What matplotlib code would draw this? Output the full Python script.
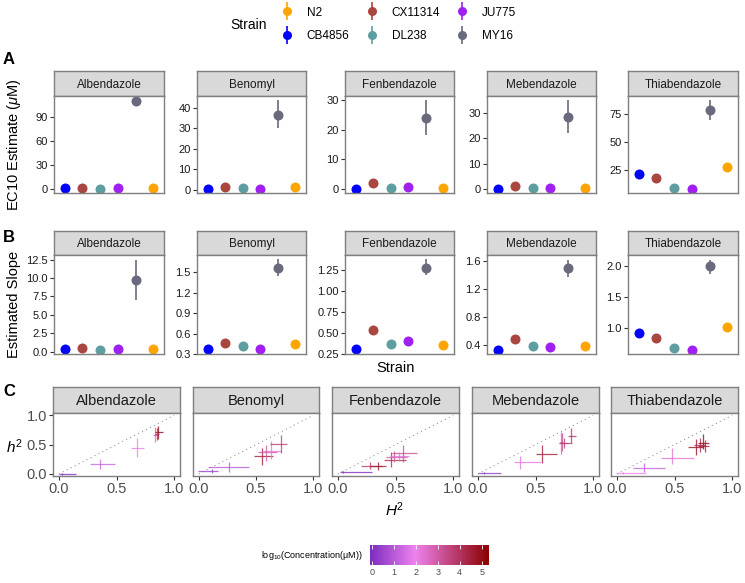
import numpy as np
import matplotlib
matplotlib.use("Agg")
import matplotlib.pyplot as plt
from matplotlib.lines import Line2D
from matplotlib.legend_handler import HandlerTuple
from matplotlib.colors import LinearSegmentedColormap, Normalize
from matplotlib.cm import ScalarMappable

plt.rcParams['font.family'] = ['Liberation Sans', 'DejaVu Sans']
plt.rcParams['mathtext.fontset'] = 'custom'
plt.rcParams['mathtext.rm'] = 'Liberation Sans'
plt.rcParams['mathtext.it'] = 'Liberation Sans:italic'

drugs = ['Albendazole', 'Benomyl', 'Fenbendazole', 'Mebendazole', 'Thiabendazole']
strains = ['CB4856', 'CX11314', 'DL238', 'JU775', 'MY16', 'N2']
strain_colors = {'N2': '#FFA500', 'CB4856': '#0000FF', 'CX11314': '#A8463F',
                 'DL238': '#5F9EA0', 'JU775': '#A020F0', 'MY16': '#696A7E'}
legend_order = ['N2', 'CB4856', 'CX11314', 'DL238', 'JU775', 'MY16']

# panel A: EC10 estimates (uM), strains in order above
ec10 = {
    'Albendazole':   [0.5, 1.5, 0.3, 0.5, 109.9, 0.5],
    'Benomyl':       [0.5, 1.3, 0.8, 0.5, 36.7, 1.1],
    'Fenbendazole':  [0.1, 2.1, 0.4, 0.8, 24.1, 0.2],
    'Mebendazole':   [0.3, 1.5, 0.5, 0.5, 28.3, 0.5],
    'Thiabendazole': [21.7, 17.9, 9.2, 8.6, 77.7, 27.4],
}
ec10_lo = {'Albendazole': 108.8, 'Benomyl': 30.2, 'Fenbendazole': 18.3,
           'Mebendazole': 21.9, 'Thiabendazole': 69.3}
ec10_hi = {'Albendazole': 111.0, 'Benomyl': 43.7, 'Fenbendazole': 30.0,
           'Mebendazole': 34.8, 'Thiabendazole': 86.6}
ec10_ticks = {'Albendazole': [0, 30, 60, 90], 'Benomyl': [0, 10, 20, 30, 40],
              'Fenbendazole': [0, 10, 20, 30], 'Mebendazole': [0, 10, 20, 30],
              'Thiabendazole': [25, 50, 75]}

# panel B: slopes
slope = {
    'Albendazole':   [0.41, 0.50, 0.32, 0.41, 9.78, 0.41],
    'Benomyl':       [0.37, 0.469, 0.42, 0.38, 1.564, 0.454],
    'Fenbendazole':  [0.314, 0.538, 0.374, 0.406, 1.274, 0.358],
    'Mebendazole':   [0.342, 0.497, 0.39, 0.38, 1.495, 0.395],
    'Thiabendazole': [0.92, 0.85, 0.68, 0.66, 1.99, 1.02],
}
slope_lo = {'Albendazole': 7.0, 'Benomyl': 1.446, 'Fenbendazole': 1.186,
            'Mebendazole': 1.37, 'Thiabendazole': 1.87}
slope_hi = {'Albendazole': 12.5, 'Benomyl': 1.69, 'Fenbendazole': 1.37,
            'Mebendazole': 1.62, 'Thiabendazole': 2.10}
slope_ticks = {'Albendazole': ['0.0', '2.5', '5.0', '7.5', '10.0', '12.5'],
               'Benomyl': ['0.3', '0.6', '0.9', '1.2', '1.5'],
               'Fenbendazole': ['0.25', '0.50', '0.75', '1.00', '1.25'],
               'Mebendazole': ['0.4', '0.8', '1.2', '1.6'],
               'Thiabendazole': ['1.0', '1.5', '2.0']}

# panel C: broad (H2) and narrow (h2) sense heritability per concentration
H2 = {'Albendazole':   [0.03, 0.353, 0.675, 0.836, 0.862, 0.85],
      'Benomyl':       [0.118, 0.261, 0.549, 0.589, 0.63, 0.72],
      'Fenbendazole':  [0.046, 0.276, 0.35, 0.463, 0.49, 0.569, 0.53],
      'Mebendazole':   [0.05, 0.368, 0.557, 0.72, 0.73, 0.75, 0.807],
      'Thiabendazole': [0.055, 0.233, 0.477, 0.685, 0.72, 0.745, 0.76]}
H2_lo = {'Albendazole':   [0.0, 0.267, 0.627, 0.82, 0.837, 0.83],
         'Benomyl':       [-0.01, 0.078, 0.48, 0.52, 0.56, 0.62],
         'Fenbendazole':  [0.017, 0.2, 0.28, 0.40, 0.42, 0.47, 0.45],
         'Mebendazole':   [0.0, 0.31, 0.50, 0.70, 0.71, 0.70, 0.78],
         'Thiabendazole': [0.0, 0.142, 0.385, 0.62, 0.67, 0.70, 0.70]}
H2_hi = {'Albendazole':   [0.147, 0.483, 0.735, 0.86, 0.9, 0.87],
         'Benomyl':       [0.166, 0.44, 0.65, 0.68, 0.72, 0.77],
         'Fenbendazole':  [0.30, 0.38, 0.42, 0.59, 0.60, 0.69, 0.62],
         'Mebendazole':   [0.20, 0.55, 0.69, 0.78, 0.74, 0.82, 0.85],
         'Thiabendazole': [0.25, 0.414, 0.67, 0.75, 0.76, 0.80, 0.80]}
h2 = {'Albendazole':   [0.0, 0.17, 0.446, 0.672, 0.717, 0.69],
      'Benomyl':       [0.05, 0.124, 0.305, 0.378, 0.40, 0.508],
      'Fenbendazole':  [0.03, 0.136, 0.136, 0.237, 0.29, 0.35, 0.30],
      'Mebendazole':   [0.02, 0.198, 0.333, 0.52, 0.55, 0.52, 0.644],
      'Thiabendazole': [0.02, 0.11, 0.265, 0.46, 0.50, 0.53, 0.48]}
h2_lo = {'Albendazole':   [-0.01, 0.08, 0.293, 0.55, 0.60, 0.58],
         'Benomyl':       [0.02, 0.04, 0.15, 0.22, 0.25, 0.36],
         'Fenbendazole':  [0.01, 0.08, 0.07, 0.12, 0.20, 0.21, 0.22],
         'Mebendazole':   [0.005, 0.09, 0.18, 0.34, 0.40, 0.44, 0.52],
         'Thiabendazole': [0.0, 0.04, 0.17, 0.33, 0.38, 0.42, 0.38]}
h2_hi = {'Albendazole':   [0.01, 0.25, 0.605, 0.80, 0.82, 0.78],
         'Benomyl':       [0.08, 0.21, 0.45, 0.50, 0.56, 0.67],
         'Fenbendazole':  [0.05, 0.20, 0.20, 0.37, 0.40, 0.49, 0.38],
         'Mebendazole':   [0.035, 0.31, 0.49, 0.72, 0.70, 0.62, 0.78],
         'Thiabendazole': [0.04, 0.19, 0.44, 0.60, 0.62, 0.68, 0.58]}
log_conc = {'Albendazole':   [0.0, 1.3, 2.0, 2.7, 5.0, 4.0],
            'Benomyl':       [0.5, 1.0, 4.5, 3.0, 2.3, 3.7],
            'Fenbendazole':  [0.0, 3.8, 4.6, 4.2, 3.0, 3.3, 2.3],
            'Mebendazole':   [0.3, 1.8, 4.5, 2.8, 3.2, 3.6, 3.9],
            'Thiabendazole': [2.0, 1.2, 2.3, 4.8, 4.2, 5.0, 4.5]}

W, H = 745, 583
fig = plt.figure(figsize=(W / 100, H / 100), dpi=100)


def px_axes(x0, y0, x1, y1, **kw):
    return fig.add_axes([x0 / W, 1 - y1 / H, (x1 - x0) / W, (y1 - y0) / H], **kw)


border = '#7F7F7F'


def strip(x0, y0, x1, y1, text, size):
    s = px_axes(x0, y0, x1, y1, facecolor='#D9D9D9')
    s.set_xticks([])
    s.set_yticks([])
    for sp in s.spines.values():
        sp.set_color(border)
        sp.set_linewidth(1.0)
    s.text(0.5, 0.45, text, ha='center', va='center', fontsize=size, color='#1A1A1A',
           transform=s.transAxes)


def style_panel(ax, tick_size, tick_color):
    for sp in ax.spines.values():
        sp.set_color(border)
        sp.set_linewidth(1.0)
    ax.tick_params(axis='both', length=3, width=0.8, color='#333333',
                   labelsize=tick_size, labelcolor=tick_color, pad=1.5)


ab_x = [(54, 164), (197, 306), (345, 454), (487, 596), (628, 738)]
c_x = [(53, 180), (193, 319), (332, 459), (472, 599), (611, 738)]
xpos = np.arange(1, len(strains) + 1)


def strain_panel(ax, vals, lo, hi):
    for i, st in enumerate(strains):
        c = strain_colors[st]
        if st == 'MY16':
            ax.vlines(xpos[i], lo, hi, color=c, lw=1.2)
        ax.plot(xpos[i], vals[i], 'o', color=c, ms=7.2, mec='none')
    ax.set_xlim(0.4, 6.6)
    ax.set_xticks([])
    ax.margins(y=0.05)


# panel A
for d, (x0, x1) in zip(drugs, ab_x):
    strip(x0, 71, x1, 96, d, 8.5)
    ax = px_axes(x0, 96, x1, 193)
    strain_panel(ax, ec10[d], ec10_lo[d], ec10_hi[d])
    ax.set_yticks(ec10_ticks[d])
    style_panel(ax, 8, '#1A1A1A')

# panel B
for d, (x0, x1) in zip(drugs, ab_x):
    strip(x0, 231, x1, 255, d, 8.5)
    ax = px_axes(x0, 255, x1, 354)
    strain_panel(ax, slope[d], slope_lo[d], slope_hi[d])
    ax.set_yticks([float(t) for t in slope_ticks[d]])
    ax.set_yticklabels(slope_ticks[d])
    style_panel(ax, 8, '#1A1A1A')

# panel C
cmap = LinearSegmentedColormap.from_list(
    'conc', [(0.0, '#7B2CBF'), (0.38, '#EE82EE'), (1.0, '#8B0000')])
norm = Normalize(vmin=-0.08, vmax=5.33)
for k, (d, (x0, x1)) in enumerate(zip(drugs, c_x)):
    strip(x0, 387, x1, 413, d, 10.5)
    ax = px_axes(x0, 413, x1, 476)
    ax.plot([0, 1], [0, 1], ls=(0, (1, 3)), color='#999999', lw=0.8)
    for j in range(len(H2[d])):
        col = cmap(norm(log_conc[d][j]))
        ax.hlines(h2[d][j], H2_lo[d][j], H2_hi[d][j], color=col, lw=0.9, alpha=0.8)
        ax.vlines(H2[d][j], h2_lo[d][j], h2_hi[d][j], color=col, lw=0.9, alpha=0.8)
    ax.set_xlim(-0.05, 1.05)
    ax.set_ylim(-0.035, 1.04)
    ax.set_xticks([0, 0.5, 1.0])
    ax.set_xticklabels(['0.0', '0.5', '1.0'])
    ax.set_yticks([0, 0.5, 1.0])
    if k == 0:
        ax.set_yticklabels(['0.0', '0.5', '1.0'])
    else:
        ax.tick_params(axis='y', length=0, labelleft=False)
    style_panel(ax, 10.5, '#4D4D4D')
    if k > 0:
        ax.tick_params(axis='y', length=0)

# axis titles and panel letters
fig.text(14 / W, 1 - 145 / H, 'EC10 Estimate ($\\mu$M)', rotation=90, ha='center',
         va='center', fontsize=10.5)
fig.text(14 / W, 1 - 304 / H, 'Estimated Slope', rotation=90, ha='center',
         va='center', fontsize=10.5)
fig.text(396 / W, 1 - 368 / H, 'Strain', ha='center', va='center', fontsize=10.5)
fig.text(14 / W, 1 - 447 / H, '$h^2$', ha='center', va='center', fontsize=11)
fig.text(395 / W, 1 - 510 / H, '$H^2$', ha='center', va='center', fontsize=11)
for lab, yy in [('A', 60), ('B', 237), ('C', 392)]:
    fig.text(3 / W, 1 - yy / H, lab, ha='left', va='center', fontsize=12,
             fontweight='bold')

# strain legend
handles = [(Line2D([], [], ls='none', marker='|', ms=13, mew=1.2, color=strain_colors[s]),
            Line2D([], [], ls='none', marker='o', ms=6.5, mec='none', color=strain_colors[s]))
           for s in legend_order]
fig.text(230 / W, 1 - 25 / H, 'Strain', ha='left', va='center', fontsize=10)
fig.legend(handles, legend_order, ncol=3, loc='center left',
           bbox_to_anchor=(278 / W, 1 - 24.5 / H), frameon=False, fontsize=8.5,
           handler_map={tuple: HandlerTuple(ndivide=1)}, handlelength=1.5,
           handletextpad=0.94, columnspacing=1.12, labelspacing=1.0,
           borderpad=0, borderaxespad=0)

# colour bar
cax = px_axes(370, 545, 489, 565)
cb = fig.colorbar(ScalarMappable(norm=norm, cmap=cmap), cax=cax, orientation='horizontal')
cb.set_ticks([0, 1, 2, 3, 4, 5])
cb.outline.set_visible(False)
cax.tick_params(axis='x', direction='in', length=3, color='white', width=0.6,
                labelsize=6.5, labelcolor='#4D4D4D', pad=2, top=True)
fig.text(363 / W, 1 - 555 / H, 'log$_{10}$(Concentration(μM))', ha='right',
         va='center', fontsize=6.5)

fig.savefig('out.png', dpi=100)
